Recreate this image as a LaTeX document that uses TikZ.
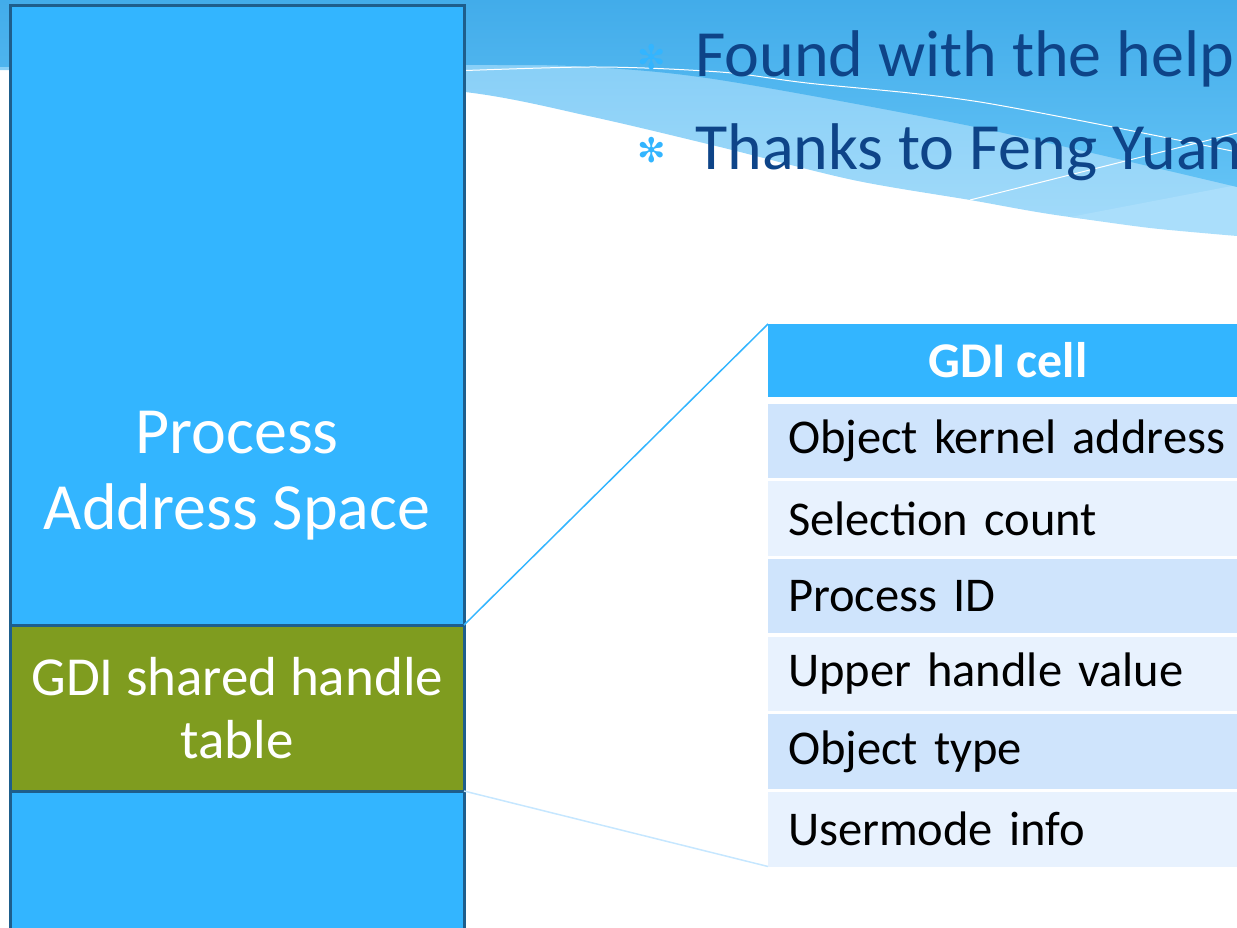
\documentclass[tikz,border=0pt]{standalone}
\usepackage{fontspec}
\setmainfont{Carlito}
\newfontfamily\dingfont{DejaVu Sans}
\usetikzlibrary{positioning}

\definecolor{boxblue}{RGB}{51,181,255}
\definecolor{boxedge}{RGB}{30,94,140}
\definecolor{gdigreen}{RGB}{127,156,31}
\definecolor{rowdark}{RGB}{207,228,252}
\definecolor{rowlight}{RGB}{232,242,254}
\definecolor{titleblue}{RGB}{14,68,136}
\definecolor{wavetop}{RGB}{66,172,234}
\definecolor{wavemid}{RGB}{98,194,245}
\definecolor{wavelightA}{RGB}{127,203,246}
\definecolor{wavelightB}{RGB}{163,219,250}
\definecolor{wavepale}{RGB}{170,222,251}
\definecolor{fadeline}{RGB}{198,231,255}

\begin{document}
\begin{tikzpicture}[x=1pt, y=-1pt,
    block/.style={draw=boxedge, line width=3pt, fill=boxblue, outer sep=0pt, inner sep=0pt,
      minimum width=453.5pt, anchor=north west},
    cellhead/.style={fill=boxblue, text=white, outer sep=0pt, inner sep=0pt, anchor=north west,
      minimum width=480pt, minimum height=73pt, font=\bfseries\fontsize{50}{60}\selectfont},
    cellrow/.style={fill=#1, outer sep=0pt, inner xsep=20pt, inner ysep=0pt, text width=440pt,
      align=left, minimum height=74.5pt, anchor=north west, font=\fontsize{48.5}{58}\selectfont},
    bullet/.style={text=boxblue, inner sep=0pt, font=\dingfont\fontsize{34}{34}\selectfont},
    title/.style={text=titleblue, inner sep=0pt, anchor=base west, font=\fontsize{66}{66}\selectfont}]

  \useasboundingbox (0,0) rectangle (1237,928);
  \clip (0,0) rectangle (1237,928);

  % background waves
  \shade[top color=wavelightA, bottom color=wavelightB] (0,0) -- (1237,0) -- (1237,235)
    -- plot[smooth] coordinates {(1237,235) (1070,217) (970,200) (853,180) (720,147)
      (593,117) (465,92) (250,76) (0,70)} -- cycle;
  \fill[wavepale] (1070,217) -- (1237,185) -- (1237,236)
    -- plot[smooth] coordinates {(1237,236) (1150,228) (1070,217)} -- cycle;
  \shade[top color=wavetop, bottom color=wavemid] (0,0) -- (1237,0) -- (1237,187)
    -- plot[smooth] coordinates {(1237,187) (980,128) (720,80) (590,67) (465,65) (0,67)} -- cycle;
  \draw[white, line width=1pt] plot[smooth] coordinates {(400,73) (590,67) (720,72) (807,83)
    (980,102) (1237,152)};
  \draw[white, line width=1pt] (970,200) -- (1237,133);

  % bullets
  \node[bullet] (b1) at (652,57) {✻};
  \node[title] (found) at (695,77) {Found with the help};
  \node[bullet] (b2) at (652,150) {✻};
  \node[title] (thanks) at (695,170) {Thanks to Feng Yuan};

  % address space column
  \node[block, minimum height=619.5pt] (space) at (10.5,5.5) {};
  \node[block, fill=gdigreen, minimum height=166pt, text=white, align=center,
    font=\fontsize{55}{63}\selectfont] (gdi) at (space.south west) {GDI shared handle\\table};
  \node[block, minimum height=150pt] (lower) at (gdi.south west) {};
  \node[text=white, align=center, font=\fontsize{66}{76}\selectfont] (spacelabel)
    at (237,476) {Process\\Address Space};

  % cell layout
  \node[cellhead] (head) at (768,324) {GDI cell};
  \foreach \lbl [count=\i] in {Object kernel address, Selection count, Process ID,
      Upper handle value, Object type, Usermode info} {
    \pgfmathsetmacro\rowy{403.5+77.7*(\i-1)}
    \ifodd\i \def\rowfill{rowdark}\else \def\rowfill{rowlight}\fi
    \node[cellrow=\rowfill] (row\i) at (768,\rowy) {\mbox{\lbl}};
  }

  \draw[boxblue, line width=1.5pt] (gdi.north east) -- (head.north west);
  \draw[fadeline, line width=1.5pt] (gdi.south east) -- (row6.south west);
\end{tikzpicture}
\end{document}
